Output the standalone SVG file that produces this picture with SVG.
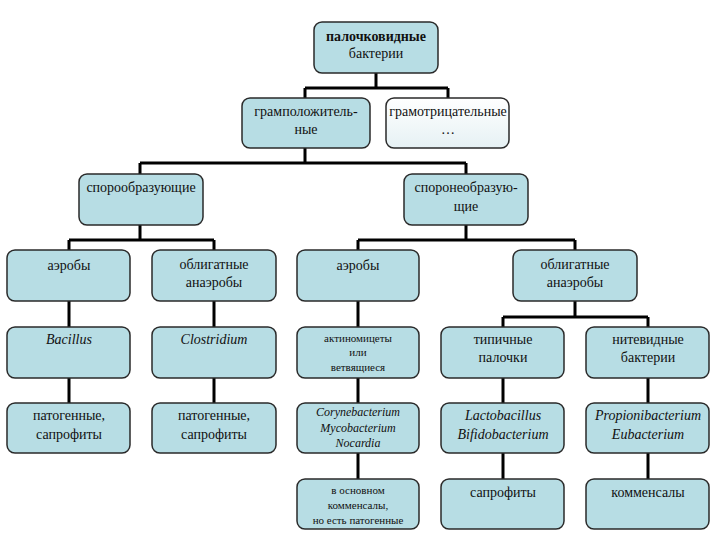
<svg xmlns="http://www.w3.org/2000/svg" width="720" height="540" viewBox="0 0 720 540">
<defs>
<linearGradient id="pale" x1="0" y1="0" x2="0" y2="1">
<stop offset="0" stop-color="#ffffff"/>
<stop offset="1" stop-color="#e6f1f4"/>
</linearGradient>
</defs>
<style>
.b{fill:#b7dde4;stroke:#2a2a2a;stroke-width:1.5}
.w{fill:url(#pale);stroke:#2a2a2a;stroke-width:1.5}
.c{fill:none;stroke:#000;stroke-width:3}
text{font-family:'Liberation Serif','DejaVu Serif','Times New Roman',serif;font-size:14px;fill:#111;text-anchor:middle}
.i{font-style:italic}
.s{font-size:11px}
.m{font-size:12px}
</style>
<rect width="720" height="540" fill="#fff"/>
<g id="connectors">
<path class="c" d="M376 73V88M305 88H448M305 88V98M448 88V98"/>
<path class="c" d="M305 148V163M140 163H466M140 163V174M466 163V174"/>
<path class="c" d="M140 225V240M69 240H214M69 240V250M214 240V250"/>
<path class="c" d="M466 225V240M358 240H575M358 240V250M575 240V250"/>
<path class="c" d="M69 301V327M214 301V327M358 301V327"/>
<path class="c" d="M575 301V317M503 317H648M503 317V327M648 317V327"/>
<path class="c" d="M69 378V403M214 378V403M358 378V403M503 378V403M648 378V403"/>
<path class="c" d="M358 453V479M503 453V479M648 453V479"/>
</g>
<g font-family="Liberation Serif, serif">
<g id="root"><rect class="b" x="314" y="22" width="124" height="51" rx="8"/><text x="376" y="41" font-weight="bold">палочковидные</text><text x="376" y="58">бактерии</text></g>
<g id="grampos"><rect class="b" x="242" y="98" width="128" height="50" rx="8"/><text x="306" y="116">грамположитель-</text><text x="306" y="134">ные</text></g>
<g id="gramneg"><rect class="w" x="386" y="98" width="123" height="50" rx="8"/><text x="448" y="116">грамотрицательные</text><text x="448" y="134">…</text></g>
<g id="spore"><rect class="b" x="79" y="174" width="124" height="51" rx="8"/><text x="141" y="192">спорообразующие</text></g>
<g id="nonspore"><rect class="b" x="404" y="174" width="124" height="51" rx="8"/><text x="466" y="192">споронеобразую-</text><text x="466" y="211">щие</text></g>
<g id="aer1"><rect class="b" x="7" y="250" width="123" height="51" rx="8"/><text x="69" y="270">аэробы</text></g>
<g id="anaer1"><rect class="b" x="152" y="250" width="124" height="51" rx="8"/><text x="214" y="269">облигатные</text><text x="214" y="287">анаэробы</text></g>
<g id="aer2"><rect class="b" x="297" y="250" width="122" height="51" rx="8"/><text x="358" y="270">аэробы</text></g>
<g id="anaer2"><rect class="b" x="513" y="250" width="124" height="51" rx="8"/><text x="575" y="269">облигатные</text><text x="575" y="287">анаэробы</text></g>
<g id="bacillus"><rect class="b" x="7" y="327" width="123" height="51" rx="8"/><text class="i" x="69" y="344">Bacillus</text></g>
<g id="clostridium"><rect class="b" x="152" y="327" width="124" height="51" rx="8"/><text class="i" x="214" y="344">Clostridium</text></g>
<g id="actino"><rect class="b" x="297" y="327" width="122" height="51" rx="8"/><text class="s" x="358" y="342">актиномицеты</text><text class="s" x="358" y="356">или</text><text class="s" x="358" y="371">ветвящиеся</text></g>
<g id="typical"><rect class="b" x="441" y="327" width="123" height="51" rx="8"/><text x="503" y="344">типичные</text><text x="503" y="362">палочки</text></g>
<g id="filament"><rect class="b" x="586" y="327" width="123" height="51" rx="8"/><text x="648" y="344">нитевидные</text><text x="648" y="362">бактерии</text></g>
<g id="path1"><rect class="b" x="7" y="403" width="123" height="50" rx="8"/><text x="69" y="420">патогенные,</text><text x="69" y="439">сапрофиты</text></g>
<g id="path2"><rect class="b" x="152" y="403" width="124" height="50" rx="8"/><text x="214" y="420">патогенные,</text><text x="214" y="439">сапрофиты</text></g>
<g id="coryne"><rect class="b" x="297" y="403" width="122" height="50" rx="8"/><text class="i m" x="358" y="416">Corynebacterium</text><text class="i m" x="358" y="432">Mycobacterium</text><text class="i m" x="358" y="447">Nocardia</text></g>
<g id="lacto"><rect class="b" x="441" y="403" width="123" height="50" rx="8"/><text class="i" x="503" y="420">Lactobacillus</text><text class="i" x="503" y="439">Bifidobacterium</text></g>
<g id="propioni"><rect class="b" x="586" y="403" width="123" height="50" rx="8"/><text class="i" x="648" y="420">Propionibacterium</text><text class="i" x="648" y="439">Eubacterium</text></g>
<g id="comm1"><rect class="b" x="297" y="479" width="122" height="50" rx="8"/><text class="s" x="358" y="494">в основном</text><text class="s" x="358" y="509">комменсалы,</text><text class="s" x="358" y="524">но есть патогенные</text></g>
<g id="sapro"><rect class="b" x="441" y="479" width="123" height="50" rx="8"/><text x="503" y="497">сапрофиты</text></g>
<g id="comm2"><rect class="b" x="586" y="479" width="123" height="50" rx="8"/><text x="648" y="497">комменсалы</text></g>
</g>
</svg>
